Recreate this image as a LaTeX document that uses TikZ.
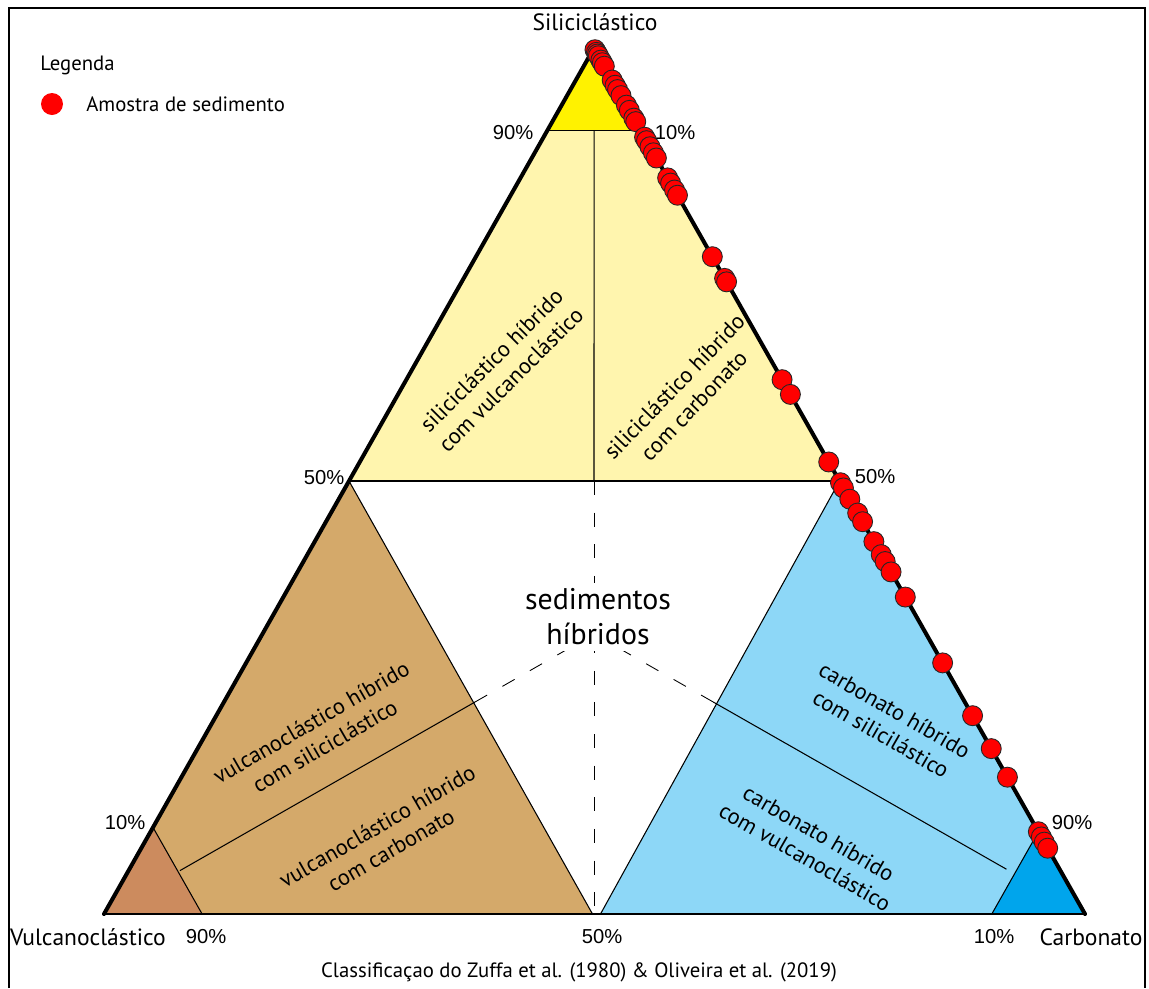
\documentclass[tikz,border=0pt]{standalone}
\usepackage{fontspec}
\setmainfont{PT Sans}
\newfontfamily\pctfont{Liberation Sans}
\usepackage{xcolor}
\usetikzlibrary{calc}
\definecolor{silbright}{HTML}{FFF200}
\definecolor{silpale}{HTML}{FFF5AE}
\definecolor{vulpale}{HTML}{D4A96A}
\definecolor{vuldark}{HTML}{CC8B5E}
\definecolor{carpale}{HTML}{8DD7F7}
\definecolor{cardark}{HTML}{00A5EC}
\definecolor{samplered}{HTML}{FF0000}
\tikzset{
  edge/.style={line width=2.3pt,line join=round,line cap=round},
  baseedge/.style={line width=1.1pt},
  divline/.style={line width=0.6pt},
  guide/.style={line width=0.5pt,dash pattern=on 8pt off 10pt},
  zonelabel/.style={align=center,font=\fontsize{12.8}{15.5}\selectfont,inner sep=0pt},
  vertexlabel/.style={font=\fontsize{13.4}{15}\selectfont,inner sep=0pt},
  legendtext/.style={anchor=west,font=\fontsize{11.8}{13}\selectfont,inner sep=0pt},
  pct/.style={font=\pctfont\fontsize{11.5}{13}\selectfont,inner sep=0pt},
  sample/.style={draw=black!85,fill=samplered,line width=0.5pt}
}

\begin{document}
\begin{tikzpicture}[x=0.02cm,y=-0.02cm]
  \useasboundingbox (0,0) rectangle (1149,988);
  \draw[line width=1.1pt] (9,988) -- (9,8) -- (1145,8) -- (1145,988);

  \coordinate (S) at (594,48);
  \coordinate (V) at (104,914);
  \coordinate (K) at (1085,914);
  \coordinate (O) at (594,634);
  \coordinate (mSV) at ($(S)!0.5!(V)$);
  \coordinate (mSK) at ($(S)!0.5!(K)$);
  \coordinate (mVK) at ($(V)!0.5!(K)$);
  \coordinate (s1) at ($(S)!0.095!(V)$);
  \coordinate (s2) at ($(S)!0.095!(K)$);
  \coordinate (v1) at ($(V)!0.1!(S)$);
  \coordinate (v2) at ($(V)!0.1!(K)$);
  \coordinate (k1) at ($(K)!0.095!(S)$);
  \coordinate (k2) at ($(K)!0.095!(V)$);
  \coordinate (vEnd) at ($(mVK)+(-2,0)$);
  \coordinate (kEnd) at ($(mVK)+(6,0)$);

  \fill[silbright] (S) -- (s1) -- (s2) -- cycle;
  \fill[silpale] (s1) -- (mSV) -- (mSK) -- (s2) -- cycle;
  \fill[vulpale] (mSV) -- (V) -- (vEnd) -- cycle;
  \fill[vuldark] (V) -- (v1) -- (v2) -- cycle;
  \fill[carpale] (mSK) -- (K) -- (kEnd) -- cycle;
  \fill[cardark] (K) -- (k1) -- (k2) -- cycle;

  \draw[divline] (s1) -- (s2);
  \draw[divline] (mSV) -- (mSK);
  \draw[divline] (mSV) -- (vEnd);
  \draw[divline] (mSK) -- (kEnd);
  \draw[divline] (v1) -- (v2);
  \draw[divline] (k1) -- (k2);
  \draw[divline] ($(s1)!0.5!(s2)$) -- (594,481);
  \draw[guide] (594,481) -- (594,914);
  \draw[divline] ($(O)!0.243!(V)$) -- ($(O)!0.845!(V)$);
  \draw[divline] ($(O)!0.243!(K)$) -- ($(O)!0.84!(K)$);
  \draw[guide] ($(O)!0.243!(V)$) -- (O);
  \draw[guide] ($(O)!0.243!(K)$) -- (O);

  \draw[baseedge] (V) -- (K);
  \draw[edge] (V) -- (S) -- (K);

  \node[zonelabel,fill=white,inner sep=3pt,font=\fontsize{17}{20}\selectfont] (hybrid) at (598,617) {sedimentos\\híbridos};
  \node[zonelabel,rotate=45] (silvul) at (501,370) {siliciclástico híbrido\\com vulcanoclástico};
  \node[zonelabel,rotate=46] (silcar) at (684,396) {siliciclástico híbrido\\com carbonato};
  \node[zonelabel,rotate=30] (vulsil) at (318,734) {vulcanoclástico híbrido\\com siliciclástico};
  \node[zonelabel,rotate=30] (vulcar) at (384,838) {vulcanoclástico híbrido\\com carbonato};
  \node[zonelabel,rotate=-30] (carsil) at (888,722) {carbonato híbrido\\com silicilástico};
  \node[zonelabel,rotate=-30] (carvul) at (812,845) {carbonato híbrido\\com vulcanoclástico};

  \foreach \t in {0.002,0.005,0.007,0.009,0.014,0.017,0.021,0.037,0.043,0.048,
                  0.055,0.066,0.072,0.081,0.085,0.103,0.107,0.114,0.121,0.127,
                  0.150,0.156,0.164,0.170,0.241,0.266,0.270,0.383,0.400,0.478,
                  0.502,0.508,0.521,0.537,0.547,0.570,0.585,0.593,0.605,0.634,
                  0.710,0.771,0.809,0.842,0.905,0.911,0.917,0.924}{
    \filldraw[sample] ($(S)!\t!(K)$) circle[radius=10];
  }

  \node[vertexlabel] (lblS) at (595,22) {Siliciclástico};
  \node[vertexlabel] (lblV) at (88,937) {Vulcanoclástico};
  \node[vertexlabel] (lblK) at (1091,937) {Carbonato};

  \node[pct] (pS90) at (513,133) {90\%};
  \node[pct] (pS10) at (675,133) {10\%};
  \node[pct] (pSV50) at (324,478) {50\%};
  \node[pct] (pSK50) at (875,477) {50\%};
  \node[pct] (pV10) at (125,823) {10\%};
  \node[pct] (pK90) at (1072,823) {90\%};
  \node[pct] (pV90) at (206,937) {90\%};
  \node[pct] (pVK50) at (602,937) {50\%};
  \node[pct] (pK10) at (994,937) {10\%};

  \node[legendtext] (legtitle) at (40,65) {Legenda};
  \fill[samplered] (52,104) circle[radius=11];
  \node[legendtext] (legsample) at (86,104) {Amostra de sedimento};

  \node[font=\fontsize{11.8}{13}\selectfont] (source) at (579,972)
    {Classificaçao do Zuffa et al. (1980) \& Oliveira et al. (2019)};
\end{tikzpicture}
\end{document}
